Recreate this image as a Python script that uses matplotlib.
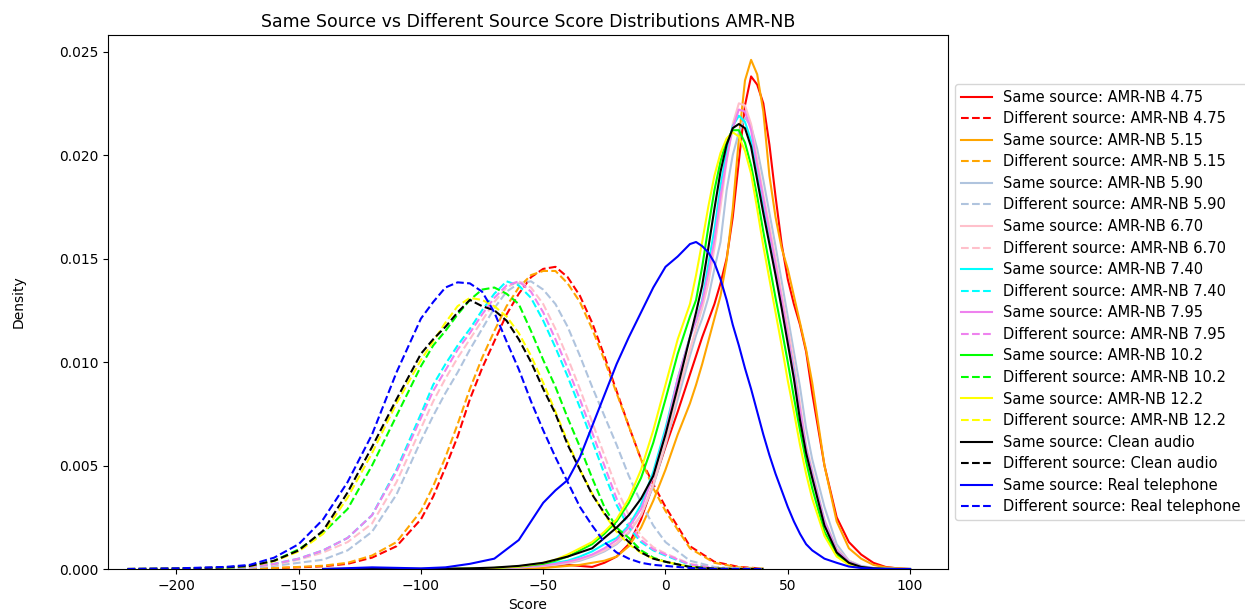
import matplotlib
matplotlib.use("Agg")
import matplotlib.pyplot as plt

# ---------------- data ----------------
conditions = ["AMR-NB 4.75", "AMR-NB 5.15", "AMR-NB 5.90", "AMR-NB 6.70",
              "AMR-NB 7.40", "AMR-NB 7.95", "AMR-NB 10.2", "AMR-NB 12.2",
              "Clean audio", "Real telephone"]
colors = ["red", "orange", "lightsteelblue", "pink", "cyan", "violet",
          "lime", "yellow", "black", "blue"]

# score grid for "different source" curves
x_diff = [-220, -200, -180, -170, -160, -150, -140, -130, -120, -110, -100, -95, -90,
          -85, -80, -75, -70, -65, -60, -55, -50, -45, -40, -35, -30, -25, -20,
          -15, -10, -5, 0, 10, 20, 30, 40]

diff_475 = [0, 0, 0.00001, 0.00002, 0.00004, 0.00008, 0.00013, 0.00025, 0.00055, 0.00110,
            0.00240, 0.00350, 0.00490, 0.00640, 0.00820, 0.00970, 0.01100, 0.01230, 0.01330,
            0.01410, 0.01450, 0.01460, 0.01410, 0.01320, 0.01190, 0.01030, 0.00860, 0.00690,
            0.00530, 0.00410, 0.00300, 0.00110, 0.00035, 0.00010, 0.00002]
diff_515 = [0, 0, 0.00001, 0.00002, 0.00005, 0.00010, 0.00016, 0.00030, 0.00065, 0.00130,
            0.00280, 0.00400, 0.00540, 0.00700, 0.00870, 0.01020, 0.01150, 0.01270, 0.01360,
            0.01420, 0.01440, 0.01440, 0.01380, 0.01290, 0.01160, 0.01010, 0.00850, 0.00690,
            0.00530, 0.00390, 0.00280, 0.00100, 0.00030, 0.00008, 0.00002]
diff_590 = [0, 0.00001, 0.00003, 0.00006, 0.00015, 0.00030, 0.00045, 0.00090, 0.00180, 0.00360,
            0.00620, 0.00740, 0.00850, 0.00950, 0.01060, 0.01160, 0.01260, 0.01340, 0.01380,
            0.01390, 0.01350, 0.01280, 0.01170, 0.01030, 0.00880, 0.00740, 0.00600, 0.00450,
            0.00320, 0.00210, 0.00130, 0.00040, 0.00010, 0.00002, 0]
diff_670 = [0, 0.00001, 0.00003, 0.00008, 0.00020, 0.00045, 0.00080, 0.00130, 0.00220, 0.00420,
            0.00680, 0.00810, 0.00920, 0.01020, 0.01110, 0.01200, 0.01290, 0.01360, 0.01390,
            0.01360, 0.01280, 0.01160, 0.01020, 0.00870, 0.00710, 0.00550, 0.00390, 0.00260,
            0.00160, 0.00105, 0.00075, 0.00025, 0.00006, 0.00001, 0]
diff_740 = [0, 0.00001, 0.00004, 0.00010, 0.00025, 0.00050, 0.00090, 0.00150, 0.00260, 0.00480,
            0.00750, 0.00890, 0.00990, 0.01080, 0.01160, 0.01250, 0.01330, 0.01390, 0.01370,
            0.01310, 0.01200, 0.01070, 0.00930, 0.00780, 0.00620, 0.00460, 0.00310, 0.00200,
            0.00130, 0.00090, 0.00065, 0.00020, 0.00005, 0.00001, 0]
diff_795 = [0, 0.00001, 0.00004, 0.00010, 0.00025, 0.00050, 0.00090, 0.00150, 0.00260, 0.00470,
            0.00730, 0.00860, 0.00960, 0.01060, 0.01140, 0.01230, 0.01310, 0.01370, 0.01390,
            0.01340, 0.01240, 0.01110, 0.00970, 0.00820, 0.00660, 0.00500, 0.00340, 0.00220,
            0.00140, 0.00095, 0.00070, 0.00022, 0.00005, 0.00001, 0]
diff_102 = [0, 0.00001, 0.00005, 0.00015, 0.00040, 0.00095, 0.00175, 0.00290, 0.00500, 0.00740,
            0.00980, 0.01080, 0.01150, 0.01230, 0.01300, 0.01350, 0.01360, 0.01330, 0.01280,
            0.01150, 0.01010, 0.00880, 0.00730, 0.00590, 0.00440, 0.00300, 0.00200, 0.00150,
            0.00090, 0.00055, 0.00035, 0.00010, 0.00002, 0, 0]
diff_122 = [0, 0.00002, 0.00007, 0.00014, 0.00038, 0.00085, 0.00170, 0.00345, 0.00560, 0.00800,
            0.01010, 0.01100, 0.01190, 0.01270, 0.01310, 0.01300, 0.01270, 0.01220, 0.01140,
            0.01030, 0.00900, 0.00760, 0.00615, 0.00480, 0.00365, 0.00265, 0.00180, 0.00120,
            0.00078, 0.00050, 0.00035, 0.00010, 0.00002, 0, 0]
diff_clean = [0, 0.00002, 0.00008, 0.00015, 0.00040, 0.00090, 0.00185, 0.00370, 0.00590, 0.00820,
              0.01040, 0.01110, 0.01170, 0.01240, 0.01300, 0.01270, 0.01250, 0.01200, 0.01110,
              0.01000, 0.00870, 0.00750, 0.00600, 0.00480, 0.00360, 0.00270, 0.00190, 0.00130,
              0.00080, 0.00050, 0.00035, 0.00010, 0.00002, 0, 0]
diff_tel = [0, 0.00003, 0.00010, 0.00020, 0.00055, 0.00120, 0.00240, 0.00420, 0.00650, 0.00950,
            0.01210, 0.01290, 0.01360, 0.01385, 0.01380, 0.01340, 0.01240, 0.01100, 0.00965,
            0.00810, 0.00670, 0.00540, 0.00420, 0.00300, 0.00210, 0.00130, 0.00080, 0.00050,
            0.00030, 0.00020, 0.00015, 0.00005, 0.00001, 0, 0]

# score grid for "same source" curves
x_same = [-140, -120, -100, -90, -80, -70, -60, -50, -45, -40, -35, -30, -25, -20, -15,
          -10, -5, 0, 5, 10, 12.5, 15, 17.5, 20, 22.5, 25, 27.5, 30, 32.5, 35, 37.5, 40,
          42.5, 45, 47.5, 50, 52.5, 55, 57.5, 60, 65, 70, 75, 80, 85, 90, 95, 100]

same_475 = [0, 0, 0, 0, 0.00001, 0.00003, 0.00006, 0.00010, 0.00015, 0.00020,
            0.00015, 0.00010, 0.00030, 0.00060, 0.00120, 0.00240, 0.00410, 0.00590, 0.00760, 0.00940,
            0.01030, 0.01120, 0.01200, 0.01280, 0.01380, 0.01500, 0.01700, 0.01970, 0.02240, 0.02380,
            0.02340, 0.02250, 0.02050, 0.01800, 0.01570, 0.01400, 0.01280, 0.01180, 0.01050, 0.00850,
            0.00500, 0.00250, 0.00130, 0.00070, 0.00030, 0.00010, 0.00003, 0]
same_515 = [0, 0, 0, 0, 0.00001, 0.00002, 0.00004, 0.00005, 0.00010, 0.00015,
            0.00020, 0.00030, 0.00040, 0.00060, 0.00110, 0.00200, 0.00330, 0.00480, 0.00650, 0.00800,
            0.00890, 0.00990, 0.01100, 0.01210, 0.01320, 0.01490, 0.01740, 0.02080, 0.02360, 0.02460,
            0.02390, 0.02210, 0.01900, 0.01700, 0.01550, 0.01450, 0.01320, 0.01190, 0.01060, 0.00900,
            0.00500, 0.00230, 0.00100, 0.00050, 0.00020, 0.00008, 0.00003, 0]
same_590 = [0, 0, 0, 0, 0.00001, 0.00003, 0.00007, 0.00015, 0.00020, 0.00028,
            0.00040, 0.00060, 0.00085, 0.00120, 0.00175, 0.00260, 0.00400, 0.00600, 0.00820, 0.01030,
            0.01130, 0.01210, 0.01310, 0.01450, 0.01580, 0.01830, 0.02000, 0.02110, 0.02180, 0.02140,
            0.02030, 0.01880, 0.01720, 0.01560, 0.01390, 0.01220, 0.01050, 0.00880, 0.00680, 0.00530,
            0.00300, 0.00120, 0.00040, 0.00015, 0.00005, 0.00002, 0, 0]
same_670 = [0, 0, 0, 0, 0.00001, 0.00003, 0.00007, 0.00015, 0.00022, 0.00030,
            0.00045, 0.00065, 0.00090, 0.00125, 0.00180, 0.00260, 0.00410, 0.00610, 0.00850, 0.01060,
            0.01160, 0.01260, 0.01380, 0.01550, 0.01750, 0.01970, 0.02150, 0.02250, 0.02240, 0.02150,
            0.01980, 0.01810, 0.01660, 0.01500, 0.01330, 0.01170, 0.01000, 0.00800, 0.00600, 0.00480,
            0.00240, 0.00100, 0.00040, 0.00013, 0.00004, 0.00001, 0, 0]
same_740 = [0, 0, 0, 0, 0.00001, 0.00004, 0.00010, 0.00020, 0.00030, 0.00040,
            0.00060, 0.00085, 0.00120, 0.00150, 0.00210, 0.00310, 0.00470, 0.00680, 0.00920, 0.01120,
            0.01200, 0.01300, 0.01470, 0.01640, 0.01850, 0.02020, 0.02140, 0.02190, 0.02160, 0.02070,
            0.01920, 0.01760, 0.01610, 0.01450, 0.01280, 0.01120, 0.00960, 0.00760, 0.00580, 0.00460,
            0.00230, 0.00090, 0.00035, 0.00012, 0.00004, 0.00001, 0, 0]
same_795 = [0, 0, 0, 0, 0.00001, 0.00003, 0.00008, 0.00018, 0.00025, 0.00035,
            0.00050, 0.00070, 0.00100, 0.00140, 0.00200, 0.00290, 0.00450, 0.00660, 0.00920, 0.01120,
            0.01200, 0.01290, 0.01430, 0.01590, 0.01800, 0.01980, 0.02130, 0.02220, 0.02210, 0.02120,
            0.01950, 0.01790, 0.01630, 0.01470, 0.01300, 0.01130, 0.00950, 0.00770, 0.00580, 0.00460,
            0.00230, 0.00090, 0.00035, 0.00012, 0.00004, 0.00001, 0, 0]
same_102 = [0, 0, 0, 0, 0.00002, 0.00005, 0.00012, 0.00025, 0.00040, 0.00060,
            0.00090, 0.00120, 0.00170, 0.00230, 0.00320, 0.00440, 0.00610, 0.00820, 0.01040, 0.01220,
            0.01300, 0.01460, 0.01650, 0.01830, 0.01970, 0.02070, 0.02120, 0.02120, 0.02060, 0.01950,
            0.01800, 0.01630, 0.01470, 0.01310, 0.01160, 0.01000, 0.00830, 0.00670, 0.00520, 0.00390,
            0.00180, 0.00070, 0.00025, 0.00008, 0.00002, 0, 0, 0]
same_122 = [0, 0, 0, 0, 0.00002, 0.00005, 0.00012, 0.00030, 0.00045, 0.00070,
            0.00100, 0.00130, 0.00180, 0.00240, 0.00340, 0.00480, 0.00670, 0.00890, 0.01110, 0.01280,
            0.01420, 0.01580, 0.01750, 0.01900, 0.02010, 0.02080, 0.02110, 0.02090, 0.02020, 0.01910,
            0.01740, 0.01560, 0.01400, 0.01240, 0.01080, 0.00910, 0.00760, 0.00600, 0.00460, 0.00340,
            0.00160, 0.00060, 0.00020, 0.00007, 0.00002, 0, 0, 0]
same_clean = [0, 0, 0, 0.00001, 0.00003, 0.00007, 0.00015, 0.00030, 0.00045, 0.00060,
              0.00080, 0.00100, 0.00150, 0.00200, 0.00260, 0.00340, 0.00450, 0.00650, 0.00880, 0.01120,
              0.01240, 0.01370, 0.01550, 0.01740, 0.01920, 0.02050, 0.02130, 0.02150, 0.02130, 0.02040,
              0.01880, 0.01720, 0.01570, 0.01420, 0.01260, 0.01090, 0.00920, 0.00720, 0.00560, 0.00440,
              0.00210, 0.00080, 0.00030, 0.00010, 0.00003, 0.00001, 0, 0]
same_tel = [0, 0.00008, 0.00003, 0.00008, 0.00025, 0.00050, 0.00140, 0.00320, 0.00380, 0.00430,
            0.00540, 0.00690, 0.00840, 0.00990, 0.01120, 0.01240, 0.01360, 0.01460, 0.01510, 0.01570,
            0.01580, 0.01560, 0.01530, 0.01480, 0.01400, 0.01300, 0.01180, 0.01080, 0.00970, 0.00870,
            0.00760, 0.00650, 0.00550, 0.00460, 0.00380, 0.00300, 0.00230, 0.00170, 0.00120, 0.00090,
            0.00050, 0.00030, 0.00012, 0.00005, 0.00002, 0, 0, 0]

x_ticks = [-200, -150, -100, -50, 0, 50, 100]
y_ticks = [0.000, 0.005, 0.010, 0.015, 0.020, 0.025]

same_series = [same_475, same_515, same_590, same_670, same_740, same_795,
               same_102, same_122, same_clean, same_tel]
diff_series = [diff_475, diff_515, diff_590, diff_670, diff_740, diff_795,
               diff_102, diff_122, diff_clean, diff_tel]

# ---------------- figure ----------------
fig = plt.figure(figsize=(12.45, 6.10), dpi=100)
ax = fig.add_axes([0.0867, 0.0672, 0.6747, 0.8754])

for cond, col, ys, yd in zip(conditions, colors, same_series, diff_series):
    ax.plot(x_same, ys, color=col, linestyle="-", linewidth=1.5,
            label=f"Same source: {cond}")
    ax.plot(x_diff, yd, color=col, linestyle="--", linewidth=1.5,
            label=f"Different source: {cond}")

ax.set_xlim(-228, 115.5)
ax.set_ylim(0, 0.0258)
ax.set_xticks(x_ticks)
ax.set_yticks(y_ticks)
ax.set_xticklabels([f"{t:g}".replace("-", "\u2212") for t in x_ticks])
ax.set_yticklabels([f"{t:.3f}" for t in y_ticks])
ax.set_xlabel("Score")
ax.set_ylabel("Density", labelpad=24)
ax.set_title("Same Source vs Different Source Score Distributions AMR-NB", fontsize=12.5)
ax.legend(loc="center left", bbox_to_anchor=(1.0, 0.5), fontsize=10.5,
          labelspacing=0.45, handlelength=2.1)

fig.savefig("out.png", dpi=100)
